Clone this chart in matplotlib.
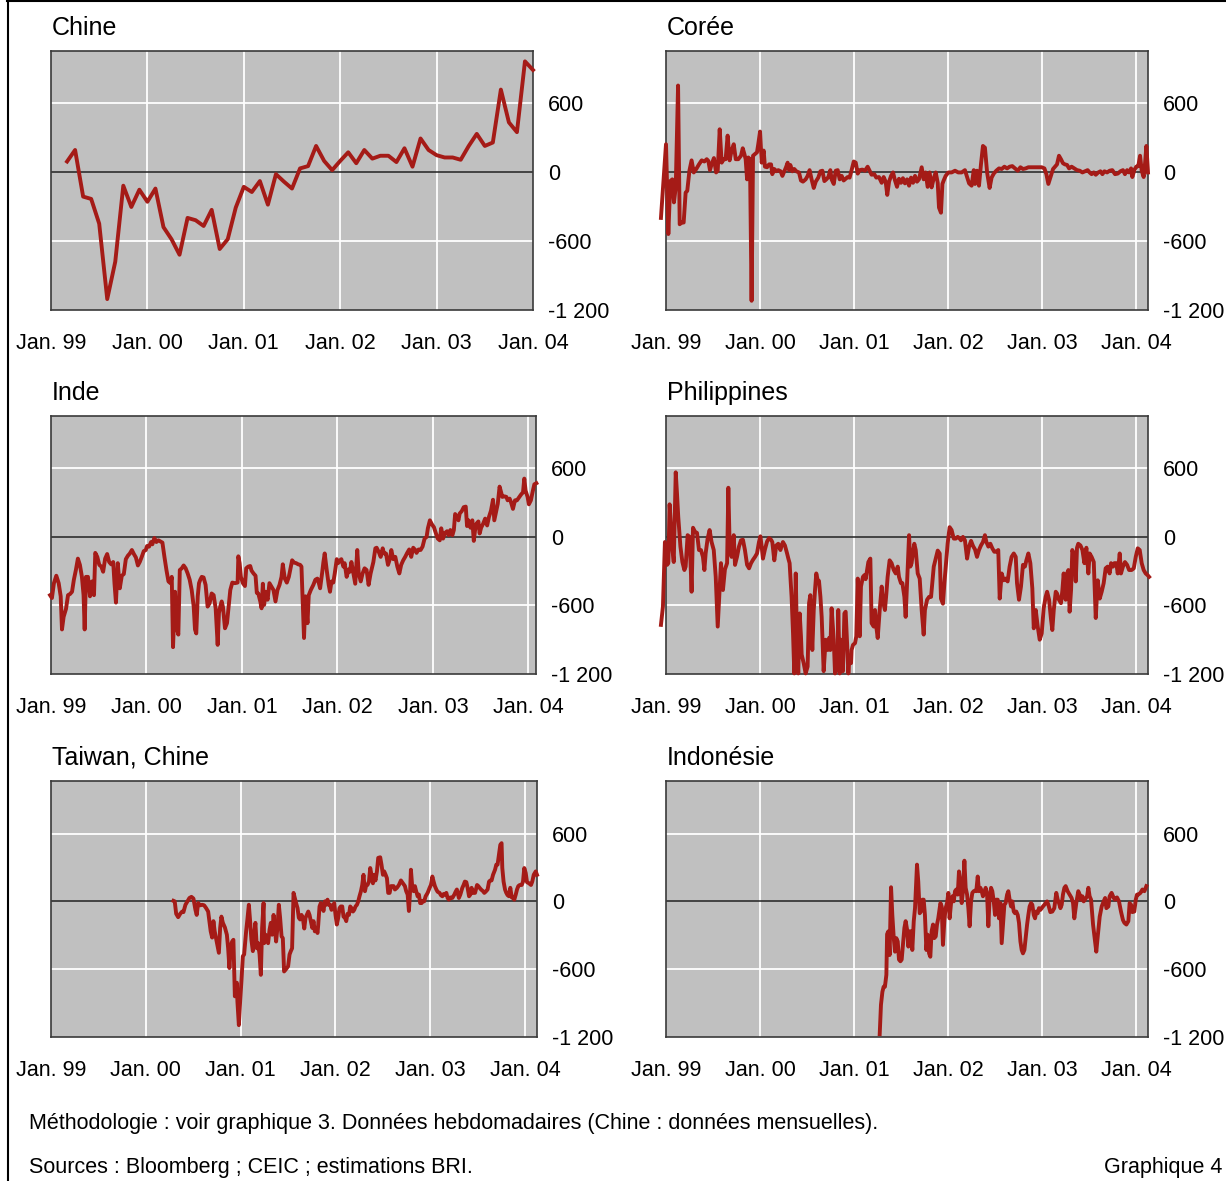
import numpy as np
import pandas as pd
import matplotlib.pyplot as plt
from matplotlib.lines import Line2D

plt.rcParams['font.family'] = ['Liberation Sans', 'DejaVu Sans']

W, H = 1226, 1181
RED = '#a51b17'
GREY = '#c0c0c0'

# China: monthly, Mar 1999 .. Jan 2004
china_dates = pd.date_range('1999-03-01', periods=59, freq='MS')
china_vals = [90, 190, -215, -235, -450, -1105, -780, -120, -305, -155,
              -260, -145, -480, -585, -720, -400, -420, -470, -330, -670,
              -585, -310, -130, -175, -80, -285, -20, -85, -145, 30,
              50, 225, 95, 15, 95, 170, 75, 190, 115, 140,
              140, 85, 205, 45, 290, 190, 145, 125, 125, 105,
              225, 330, 225, 255, 715, 430, 345, 960, 885]

# weekly series: weeks since 1 Jan 1999, values
korea_weeks = [-2.8, 0, 1.3, 2.4, 3.5, 4.4, 5.4, 6.7, 7.6, 8.7,
               9.8, 10.9, 11.8, 13.0, 14.2, 15.4, 16.8, 18.3, 19.8, 21.3,
               22.6, 23.5, 24.4, 25.3, 26.6, 27.8, 28.7, 29.8, 30.9, 32.0,
               33.1, 34.2, 35.3, 36.4, 37.6, 38.7, 40.1, 41.6, 42.6, 43.5,
               44.2, 45.0, 45.7, 46.6, 47.5, 48.3, 49.4, 50.5, 51.2, 52.2,
               53.1, 54.2, 54.9, 56.1, 57.2, 58.3, 59.0, 60.1, 61.2, 62.3,
               63.6, 64.6, 65.7, 66.6, 67.5, 68.3, 69.0, 70.1, 71.2, 72.3,
               73.8, 74.9, 76.0, 77.5, 78.6, 79.7, 80.8, 82.0, 83.1, 84.5,
               85.7, 86.8, 87.9, 89.0, 90.1, 91.2, 91.9, 93.1, 94.2, 95.3,
               96.4, 97.5, 98.6, 99.7, 100.8, 101.9, 103.0, 104.2, 105.3, 106.4,
               107.5, 109.0, 110.4, 111.9, 113.0, 114.1, 115.6, 116.7, 118.2, 119.7,
               120.8, 121.9, 122.8, 123.8, 124.9, 126.0, 127.1, 128.2, 129.3, 130.4,
               131.5, 132.6, 133.8, 134.9, 136.0, 137.1, 138.2, 139.3, 140.4, 141.9,
               143.0, 144.1, 145.2, 146.3, 147.4, 148.6, 149.7, 150.8, 151.5, 152.6,
               153.4, 154.1, 155.2, 156.7, 158.5, 160.4, 162.2, 164.1, 165.9, 167.1,
               168.2, 169.6, 170.8, 171.5, 172.6, 173.7, 174.8, 175.9, 177.0, 178.2,
               179.6, 180.7, 181.9, 183.3, 184.8, 186.3, 187.8, 189.3, 190.7, 192.2,
               193.7, 195.2, 196.7, 198.1, 199.6, 201.1, 202.9, 204.8, 206.6, 208.5,
               210.0, 211.1, 212.2, 213.3, 214.8, 215.9, 217.0, 218.1, 219.2, 220.3,
               221.4, 222.6, 223.7, 225.1, 226.6, 228.1, 229.6, 231.1, 232.5, 234.0,
               235.1, 236.2, 237.4, 238.5, 239.9, 241.1, 242.2, 243.3, 244.8, 246.2,
               247.7, 249.2, 250.7, 252.2, 253.6, 254.7, 255.9, 257.0, 258.1, 258.8,
               259.9, 261.0, 262.1, 263.1, 264.0, 265.1, 265.9, 266.6, 267.5]
korea_vals = [-400, 240, -540, -80, -65, -265, -135, 750, -455, -440,
              -440, -180, -165, 10, 100, -5, 25, 65, 100, 90,
              110, 95, 15, 65, 120, -5, 10, 370, 80, 110,
              110, 315, 100, 185, 240, 110, 110, 140, 205, 155,
              110, -65, 125, 110, -1120, 140, 155, 170, 240, 350,
              80, 185, 45, 40, 65, 65, -20, 25, 5, 15,
              5, -35, 5, 40, 80, 15, 60, 5, 25, 5,
              -5, -75, -85, -65, -35, 15, -65, -140, -85, -50,
              5, 10, -80, -65, -45, 15, -65, -105, 10, 15,
              -65, -35, -75, -60, -45, -50, 15, 90, 80, -15,
              15, 20, 10, 45, 10, -25, -20, -50, -45, -95,
              -45, -85, -200, -85, -35, -5, -75, -130, -60, -95,
              -55, -100, -65, -120, -50, -95, -35, -85, -65, 40,
              -65, -5, -130, -5, -135, -55, -5, -95, -310, -355,
              -105, -75, -35, -5, -5, 10, -5, -5, 15, -45,
              -100, -120, 15, -105, 10, -120, 65, 225, 210, -5,
              -140, -50, -15, 10, 30, 25, 45, 30, 45, 50,
              30, 10, 40, 25, 30, 40, 40, 40, 40, 40,
              30, -20, -105, -50, 25, 45, 65, 140, 110, 75,
              65, 60, 30, 45, 30, 15, 10, -5, 5, 15,
              -5, -20, -5, -25, -5, 5, -20, 5, -5, 10,
              15, -20, -15, 5, 15, -20, 15, -5, 30, -45,
              15, 45, 50, 140, 10, -45, 80, 225, -5]

india_weeks = [-0.5, 0.5, 1.6, 2.9, 4.2, 5.3, 6.0, 6.9, 8.2, 9.3,
               10.4, 11.5, 12.5, 13.6, 14.7, 15.8, 16.9, 17.8, 18.4, 19.1,
               20.2, 21.3, 22.4, 23.5, 24.2, 25.3, 26.4, 27.5, 28.5, 29.6,
               30.7, 31.8, 32.9, 34.0, 34.7, 35.5, 36.5, 37.6, 38.7, 39.8,
               40.9, 42.0, 43.1, 44.2, 45.3, 46.4, 47.5, 48.5, 49.6, 50.7,
               51.8, 52.5, 53.6, 54.7, 55.4, 56.5, 57.6, 58.7, 59.8, 60.9,
               62.0, 63.1, 64.2, 65.3, 66.0, 66.7, 67.8, 68.9, 69.6, 70.4,
               71.5, 72.5, 73.6, 74.7, 75.8, 76.9, 78.0, 78.7, 79.4, 80.2,
               80.9, 81.6, 82.4, 83.4, 84.5, 85.6, 86.7, 87.8, 88.9, 90.0,
               91.1, 91.8, 92.5, 93.3, 94.0, 95.1, 96.2, 97.3, 98.0, 99.1,
               100.5, 102.0, 102.4, 103.1, 103.8, 104.9, 106.0, 106.7, 107.8, 108.9,
               109.6, 110.7, 111.8, 112.5, 113.3, 114.4, 115.1, 115.8, 116.5, 117.3,
               118.4, 119.4, 120.5, 121.6, 122.7, 123.8, 124.9, 126.0, 126.7, 127.8,
               128.9, 130.0, 131.1, 131.8, 132.9, 134.0, 135.1, 136.2, 136.9, 137.6,
               138.3, 139.1, 140.2, 140.9, 142.0, 143.4, 144.5, 145.6, 146.4, 147.1,
               148.2, 148.9, 149.6, 150.7, 151.8, 152.5, 153.3, 154.3, 155.1, 156.2,
               156.9, 158.0, 158.7, 159.8, 160.5, 161.6, 162.7, 163.4, 164.2, 165.3,
               166.3, 167.4, 168.2, 169.3, 170.3, 171.4, 172.5, 173.6, 174.7, 176.2,
               177.3, 178.0, 179.1, 180.2, 181.3, 182.0, 183.1, 184.2, 185.3, 186.0,
               187.1, 188.2, 189.3, 190.4, 191.4, 192.5, 193.6, 194.7, 195.8, 196.9,
               198.0, 199.1, 199.8, 200.9, 202.0, 203.1, 204.2, 205.3, 206.0, 207.1,
               208.2, 209.3, 210.3, 211.4, 212.5, 213.3, 214.3, 215.4, 216.5, 217.3,
               218.3, 219.4, 220.2, 220.9, 222.0, 222.7, 223.4, 224.5, 225.6, 226.7,
               227.4, 228.2, 229.3, 230.3, 231.1, 231.8, 232.5, 233.6, 234.3, 235.1,
               236.2, 237.3, 238.4, 239.4, 240.5, 241.6, 242.3, 243.1, 244.2, 245.2,
               246.0, 246.7, 247.8, 248.9, 249.6, 250.7, 251.4, 252.5, 253.6, 254.7,
               255.8, 256.9, 258.0, 258.7, 259.4, 260.5, 261.2, 262.3, 263.4, 264.2,
               265.3]
india_vals = [-510, -535, -405, -340, -405, -520, -810, -700, -630, -510,
              -500, -480, -375, -290, -190, -245, -350, -510, -810, -350,
              -350, -520, -390, -510, -140, -175, -245, -260, -305, -190,
              -150, -220, -240, -220, -405, -575, -230, -450, -340, -325,
              -195, -165, -145, -115, -150, -180, -250, -220, -175, -125,
              -115, -80, -85, -45, -65, -10, -45, -30, -40, -50,
              -175, -290, -390, -405, -350, -965, -480, -810, -855, -290,
              -275, -250, -275, -320, -375, -465, -610, -810, -845, -520,
              -405, -375, -350, -355, -420, -610, -580, -495, -510, -625,
              -945, -665, -610, -565, -615, -800, -755, -580, -465, -400,
              -405, -400, -170, -230, -350, -405, -430, -275, -260, -255,
              -295, -320, -340, -490, -495, -565, -625, -410, -595, -480,
              -550, -405, -435, -465, -565, -465, -420, -350, -240, -365,
              -400, -350, -260, -205, -225, -230, -240, -245, -260, -580,
              -885, -520, -755, -510, -465, -420, -375, -365, -405, -450,
              -315, -220, -145, -290, -420, -480, -390, -400, -320, -195,
              -230, -205, -195, -260, -230, -350, -285, -305, -220, -320,
              -410, -115, -320, -390, -320, -275, -290, -420, -320, -220,
              -100, -95, -130, -175, -100, -145, -145, -245, -190, -115,
              -195, -175, -260, -320, -245, -205, -175, -140, -110, -175,
              -95, -115, -140, -110, -115, -85, -15, 0, 75, 145,
              110, 85, 35, -15, -30, 75, -15, 35, 50, 15,
              60, 15, 60, 200, 175, 145, 205, 225, 260, 265,
              95, 145, 80, 145, -35, 60, 115, 135, 30, 80,
              115, 160, 100, 175, 230, 325, 145, 205, 290, 440,
              390, 350, 355, 350, 320, 335, 305, 245, 320, 320,
              345, 370, 390, 510, 405, 350, 285, 320, 405, 460,
              470]

phil_weeks = [-2.8, -1.7, -0.6, 0.6, 1.3, 2.0, 2.8, 3.5, 4.3, 5.4,
              6.1, 6.8, 8.0, 9.1, 10.2, 10.9, 12.0, 13.1, 14.2, 15.0,
              16.1, 17.2, 18.3, 19.4, 20.5, 21.3, 22.0, 23.1, 24.2, 25.3,
              26.5, 27.6, 28.7, 29.8, 30.5, 31.6, 32.7, 33.9, 34.6, 35.3,
              36.4, 37.6, 38.3, 39.4, 40.5, 41.6, 42.7, 43.8, 45.0, 46.1,
              47.2, 48.3, 49.4, 50.5, 51.6, 52.4, 53.1, 53.8, 54.9, 56.1,
              57.2, 58.3, 59.0, 60.1, 61.2, 62.3, 63.5, 64.2, 64.9, 66.0,
              67.2, 67.9, 68.6, 69.7, 70.5, 71.2, 72.0, 72.7, 73.4, 74.2,
              74.9, 75.3, 76.4, 77.5, 78.6, 79.4, 80.1, 81.2, 82.0, 82.7,
              83.4, 84.2, 84.9, 85.7, 86.4, 87.5, 88.6, 89.7, 90.5, 91.2,
              91.9, 93.1, 93.8, 94.5, 95.3, 95.6, 96.4, 97.1, 98.2, 99.0,
              99.7, 100.5, 101.2, 101.9, 102.7, 103.0, 103.8, 104.9, 105.6, 106.4,
              107.5, 108.2, 109.3, 110.1, 110.8, 111.6, 112.3, 113.4, 114.1, 115.3,
              116.0, 116.7, 117.5, 118.6, 119.7, 120.4, 121.5, 122.3, 123.0, 124.1,
              125.2, 126.4, 127.5, 128.6, 129.3, 130.4, 131.2, 132.3, 133.0, 133.8,
              134.9, 135.6, 136.3, 137.1, 137.8, 138.6, 139.7, 140.8, 141.9, 143.0,
              143.7, 144.9, 146.0, 147.1, 148.6, 149.7, 150.8, 151.9, 152.6, 153.7,
              154.5, 155.6, 156.3, 157.4, 158.5, 159.7, 160.8, 161.9, 163.0, 163.7,
              164.8, 165.9, 167.1, 168.2, 169.3, 170.4, 171.5, 172.6, 173.7, 174.8,
              175.9, 177.0, 177.8, 178.9, 180.0, 181.1, 182.2, 183.3, 184.4, 185.2,
              186.3, 187.4, 188.5, 189.6, 190.7, 191.8, 193.0, 194.1, 194.8, 195.9,
              197.0, 198.1, 199.2, 200.0, 201.1, 202.2, 203.3, 204.1, 205.2, 206.3,
              207.4, 208.5, 209.6, 210.7, 211.5, 212.6, 213.7, 214.4, 215.2, 216.3,
              217.0, 218.1, 219.2, 220.0, 220.7, 221.8, 222.6, 223.3, 224.0, 224.8,
              225.5, 226.6, 227.4, 228.1, 228.8, 230.0, 231.1, 232.2, 233.3, 234.4,
              235.1, 236.2, 237.4, 238.5, 239.6, 240.7, 241.8, 242.9, 244.0, 245.1,
              246.2, 247.0, 248.1, 248.8, 249.9, 250.7, 251.8, 252.5, 253.6, 254.7,
              255.9, 257.0, 258.4, 259.6, 260.7, 261.8, 262.9, 264.0, 265.1, 266.2,
              267.3, 268.1]
phil_vals = [-770, -610, -45, -245, -230, 285, 85, -100, -220, 565,
             380, 175, -85, -220, -290, -260, 15, 0, -480, 80,
             45, 35, -115, -115, -175, -290, -145, -15, 60, -45,
             -115, -350, -785, -450, -230, -465, -285, -230, 430, -60,
             -175, 15, -245, -175, -85, -30, -25, -115, -245, -275,
             -230, -200, -175, -145, -45, 5, -85, -190, -110, -40,
             -10, -25, -45, -205, -75, -60, -115, -75, -45, -75,
             -145, -190, -230, -525, -845, -1195, -320, -930, -1195, -670,
             -870, -1030, -1105, -1195, -1135, -580, -510, -990, -640, -465,
             -320, -380, -385, -525, -700, -1175, -900, -990, -885, -990,
             -625, -900, -1195, -1160, -1060, -640, -1195, -900, -1175, -670,
             -655, -930, -1195, -1045, -1105, -990, -945, -930, -870, -365,
             -870, -435, -350, -335, -370, -290, -220, -190, -755, -785,
             -640, -785, -885, -640, -435, -565, -640, -495, -350, -205,
             -230, -290, -320, -260, -350, -405, -405, -525, -700, -405,
             15, -260, -230, -130, -60, -115, -320, -365, -640, -855,
             -640, -550, -525, -525, -260, -190, -120, -145, -540, -585,
             -405, -200, -60, 85, 60, -15, -15, 0, -15, -30,
             0, -30, -190, -85, -35, -80, -110, -175, -115, -75,
             -45, 15, -45, -85, -60, -100, -130, -130, -115, -540,
             -320, -380, -365, -390, -260, -175, -145, -175, -405, -550,
             -435, -245, -260, -205, -145, -230, -450, -800, -640, -785,
             -900, -845, -625, -525, -480, -550, -725, -815, -640, -480,
             -495, -550, -580, -465, -320, -550, -320, -290, -655, -465,
             -115, -175, -390, -95, -60, -75, -115, -230, -95, -320,
             -145, -175, -220, -710, -380, -540, -480, -405, -275, -260,
             -320, -230, -260, -230, -230, -320, -145, -320, -260, -220,
             -245, -290, -290, -275, -175, -100, -115, -230, -290, -320,
             -335, -350]

taiwan_weeks = [67.4, 68.1, 68.9, 70.0, 71.1, 72.2, 72.9, 74.0, 75.1, 76.2,
                77.3, 78.4, 79.5, 80.2, 81.0, 82.1, 83.2, 84.3, 85.4, 86.5,
                87.2, 87.9, 88.7, 89.4, 90.1, 91.2, 92.4, 93.1, 93.8, 94.6,
                95.7, 96.8, 97.5, 98.2, 99.0, 99.7, 100.4, 100.8, 101.2, 101.9,
                102.3, 102.6, 103.4, 104.1, 104.8, 105.6, 106.3, 107.4, 108.1, 108.9,
                109.6, 110.3, 111.1, 111.8, 112.5, 113.3, 114.0, 114.8, 115.5, 116.2,
                117.0, 117.3, 118.1, 118.8, 119.5, 120.3, 121.0, 121.7, 122.5, 123.2,
                123.9, 124.7, 125.4, 126.1, 126.9, 127.6, 128.3, 129.1, 129.8, 130.5,
                131.3, 132.0, 132.7, 133.5, 134.2, 134.9, 135.7, 136.4, 137.1, 137.9,
                138.6, 139.4, 140.1, 140.8, 141.6, 142.3, 143.0, 143.8, 144.5, 145.2,
                146.0, 146.7, 147.1, 147.8, 148.5, 149.3, 150.0, 150.7, 151.5, 152.2,
                152.9, 153.7, 154.4, 155.1, 155.9, 156.6, 157.3, 158.1, 158.8, 159.5,
                160.3, 161.0, 161.8, 162.5, 163.2, 164.0, 164.7, 165.4, 166.2, 166.9,
                167.6, 168.4, 169.1, 169.8, 170.6, 171.3, 172.0, 172.8, 173.5, 174.2,
                175.0, 175.7, 176.4, 177.2, 177.9, 178.6, 179.4, 180.1, 181.2, 181.9,
                182.7, 183.4, 184.2, 184.9, 185.6, 186.4, 187.1, 187.8, 188.6, 189.3,
                190.4, 191.5, 192.6, 193.7, 194.8, 195.5, 196.3, 197.0, 197.7, 198.1,
                198.8, 199.6, 200.3, 201.0, 201.8, 202.5, 203.2, 204.0, 204.7, 205.4,
                206.2, 207.3, 208.4, 209.1, 209.9, 210.6, 211.3, 212.1, 212.8, 213.9,
                214.6, 215.4, 216.1, 216.8, 217.6, 218.3, 219.0, 219.8, 220.9, 222.0,
                222.7, 223.4, 224.5, 225.3, 226.4, 227.1, 227.8, 228.6, 229.3, 230.1,
                230.8, 231.5, 232.3, 233.4, 234.5, 235.2, 235.9, 236.7, 237.8, 238.5,
                239.2, 240.3, 241.1, 241.8, 242.5, 243.3, 244.4, 245.1, 245.8, 246.6,
                247.3, 248.0, 248.4, 249.1, 249.9, 250.6, 251.3, 252.1, 252.8, 253.6,
                254.3, 255.0, 255.8, 256.5, 257.2, 258.0, 259.1, 259.8, 260.5, 261.3,
                262.0, 263.1, 264.2, 264.9, 265.7, 266.8, 267.5]
taiwan_vals = [5, 0, -110, -140, -110, -90, -95, -30, 0, 30,
               40, 25, -75, -120, -15, -35, -30, -35, -60, -90,
               -175, -265, -320, -175, -265, -355, -455, -235, -135, -190,
               -230, -295, -415, -590, -390, -355, -340, -590, -840, -765,
               -720, -885, -1095, -885, -710, -485, -470, -265, -160, -30,
               -175, -340, -440, -295, -190, -415, -370, -470, -650, -235,
               -15, -370, -295, -340, -370, -250, -190, -295, -120, -235,
               -355, -220, -30, -145, -310, -325, -620, -605, -590, -575,
               -470, -440, -415, 75, 30, -15, -60, -145, -160, -120,
               -145, -240, -145, -120, -90, -120, -175, -235, -175, -265,
               -250, -280, -205, -45, -15, -45, -85, 0, -30, 15,
               -30, -30, -75, -45, -15, -120, -205, -145, -60, -45,
               -45, -135, -145, -175, -110, -120, -45, -60, -90, -75,
               -45, -30, 0, 45, 90, 145, 235, 90, 145, 145,
               175, 295, 235, 160, 235, 185, 265, 385, 390, 325,
               235, 265, 235, 205, 75, 75, 135, 135, 135, 105,
               120, 145, 185, 160, 135, 90, 60, -85, 105, 280,
               135, 90, 135, 90, 45, 60, -15, -15, 5, 0,
               45, 75, 120, 145, 220, 175, 135, 105, 85, 75,
               55, 45, 65, 60, 75, 30, 15, 35, 30, 60,
               85, 105, 30, 60, 120, 145, 175, 170, 120, 45,
               60, 120, 75, 75, 145, 135, 120, 105, 90, 75,
               85, 105, 175, 185, 185, 235, 280, 325, 325, 415,
               500, 515, 295, 175, 105, 75, 55, 45, 120, 35,
               30, 15, 60, 105, 135, 145, 145, 175, 295, 250,
               170, 160, 145, 175, 235, 265, 235]

indo_weeks = [118.6, 119.3, 120.1, 120.8, 121.5, 122.3, 122.7, 123.4, 124.1, 124.9,
              125.6, 126.4, 127.1, 127.8, 128.6, 129.3, 130.1, 130.8, 131.5, 132.3,
              133.0, 133.8, 134.5, 135.2, 136.0, 136.7, 137.5, 138.2, 139.3, 140.0,
              140.8, 141.5, 142.3, 143.0, 143.7, 144.5, 145.2, 146.0, 146.7, 147.4,
              148.2, 148.9, 149.7, 150.4, 151.1, 152.3, 153.0, 153.7, 154.5, 155.2,
              156.0, 156.7, 157.4, 158.2, 158.9, 159.7, 160.4, 161.1, 161.9, 162.6,
              163.4, 164.1, 164.8, 165.6, 166.3, 167.1, 167.8, 168.5, 169.3, 170.0,
              170.8, 171.5, 172.2, 173.0, 173.7, 174.5, 175.2, 175.9, 176.7, 177.4,
              178.2, 178.9, 179.6, 180.4, 181.1, 181.9, 182.6, 183.3, 184.1, 184.8,
              185.6, 186.3, 187.0, 187.8, 188.5, 189.3, 190.0, 190.7, 191.5, 192.2,
              193.0, 193.7, 194.4, 195.2, 195.9, 196.7, 197.4, 198.1, 198.9, 199.6,
              200.4, 201.1, 201.8, 202.6, 203.3, 204.1, 204.8, 205.5, 206.3, 207.0,
              207.8, 208.5, 209.2, 210.0, 210.7, 211.5, 212.2, 213.3, 214.4, 215.5,
              216.6, 217.4, 218.1, 218.9, 219.6, 220.3, 221.1, 221.8, 222.9, 224.0,
              225.1, 225.9, 226.6, 227.7, 228.8, 229.6, 230.3, 231.1, 231.8, 232.5,
              233.7, 234.4, 235.1, 235.9, 237.0, 238.1, 238.8, 239.6, 240.7, 241.8,
              242.9, 243.7, 244.4, 245.5, 246.2, 247.3, 248.5, 249.2, 250.3, 251.4,
              252.5, 253.6, 254.4, 255.5, 256.6, 257.3, 258.1, 258.8, 259.9, 260.7,
              261.4, 262.1, 263.3, 264.4, 265.5, 266.6]
indo_vals = [-1175, -915, -800, -755, -755, -650, -290, -265, -475, 125,
             -120, -325, -445, -325, -355, -515, -530, -515, -385, -235,
             -175, -250, -400, -265, -265, -430, -175, -60, 325, 175,
             -105, -90, 15, 15, -120, -430, -295, -460, -490, -265,
             -205, -325, -310, -205, -150, -15, -45, -385, -165, -60,
             -15, 75, -150, -15, 45, 0, 90, 105, 60, 265,
             165, -15, 90, 360, 120, 60, -60, -220, 0, 75,
             90, 95, 90, 220, 90, 120, 90, 45, 75, 120,
             60, -220, 30, 120, 90, 0, -120, 15, 15, -150,
             -15, -370, -205, -30, -15, 60, 90, 15, -45, 0,
             -90, -105, -90, -120, -190, -355, -430, -460, -430, -325,
             -205, -120, -45, -15, -30, -120, -150, -90, -105, -60,
             -75, -60, -45, -30, -15, 0, -30, -95, -90, -60,
             75, 15, -15, -60, -30, 60, 120, 135, 90, 60,
             30, -15, -150, -15, 90, 60, 15, 45, 0, 15,
             45, 120, 45, 15, -205, -355, -445, -310, -135, -45,
             0, 30, -60, -45, 45, 75, 30, 15, 35, 0,
             -90, -165, -190, -205, -175, -15, -30, -95, -90, 15,
             60, 60, 75, 105, 90, 135]

x_labels = ['Jan. 99', 'Jan. 00', 'Jan. 01', 'Jan. 02', 'Jan. 03', 'Jan. 04']
y_ticks = [-1200, -600, 0, 600]
y_labels = ['-1 200', '-600', '0', '600']


def wk(weeks):
    return 1999 + np.asarray(weeks) / 52.18


china_x = china_dates.year + (china_dates.month - 1) / 12

# title, x, y, box (left, top, right, bottom in px), xmax, ymax
panels = [
    ('Chine', china_x, china_vals, (51, 51, 533, 310), 2004.0, 1050),
    ('Corée', wk(korea_weeks), korea_vals, (666, 51, 1148, 310), wk(267.5), 1050),
    ('Inde', wk(india_weeks), india_vals, (51, 416, 536, 674), wk(265.1), 1058),
    ('Philippines', wk(phil_weeks), phil_vals, (666, 416, 1148, 674), wk(267.5), 1058),
    ('Taiwan, Chine', wk(taiwan_weeks), taiwan_vals, (51, 781, 537, 1037), wk(267.5), 1065),
    ('Indonésie', wk(indo_weeks), indo_vals, (666, 781, 1148, 1037), wk(267.5), 1065),
]

fig = plt.figure(figsize=(W / 100, H / 100), dpi=100)

for title, x, y, (l, t, r, b), xmax, ymax in panels:
    ax = fig.add_axes([l / W, 1 - b / H, (r - l) / W, (b - t) / H])
    ax.set_facecolor(GREY)
    ax.set_xlim(1999, xmax)
    ax.set_ylim(-1200, ymax)
    for yr in range(2000, 2005):
        if yr < xmax - 0.01:
            ax.axvline(yr, color='white', lw=1.3, zorder=1)
    for yy in (-600, 600):
        ax.axhline(yy, color='white', lw=1.3, zorder=1)
    ax.axhline(0, color='#222222', lw=1.1, zorder=2)
    ax.plot(x, y, color=RED, lw=2.8, zorder=3, clip_on=False,
            solid_joinstyle='round')
    ax.set_xticks(range(1999, 2005))
    ax.set_xticklabels(x_labels)
    ax.set_yticks(y_ticks)
    ax.set_yticklabels(y_labels)
    ax.tick_params(axis='both', length=0, labelsize=15.5)
    ax.tick_params(axis='x', pad=16.5)
    ax.tick_params(axis='y', left=False, labelleft=False, labelright=True, pad=11)
    for s in ax.spines.values():
        s.set_color('#3a3a3a')
        s.set_linewidth(1.2)
    fig.text((l + 1) / W, 1 - (t - 23) / H, title, fontsize=18, va='center', ha='left')

# outer frame (left and top edges)
fig.add_artist(Line2D([7.5 / W, 7.5 / W], [0, 1], color='black', lw=1.5,
                      transform=fig.transFigure))
fig.add_artist(Line2D([7 / W, 1], [1 - 1 / H, 1 - 1 / H], color='black', lw=1.5,
                      transform=fig.transFigure))

fig.text(29 / W, 1 - 1123 / H,
         'Méthodologie : voir graphique 3. Données hebdomadaires (Chine : données mensuelles).',
         fontsize=15.5, va='center')
fig.text(29 / W, 1 - 1168 / H, 'Sources : Bloomberg ; CEIC ; estimations BRI.',
         fontsize=15.5, va='center')
fig.text(1222 / W, 1 - 1168 / H, 'Graphique 4', fontsize=15.5, va='center', ha='right')

fig.savefig('out.png', dpi=100)
